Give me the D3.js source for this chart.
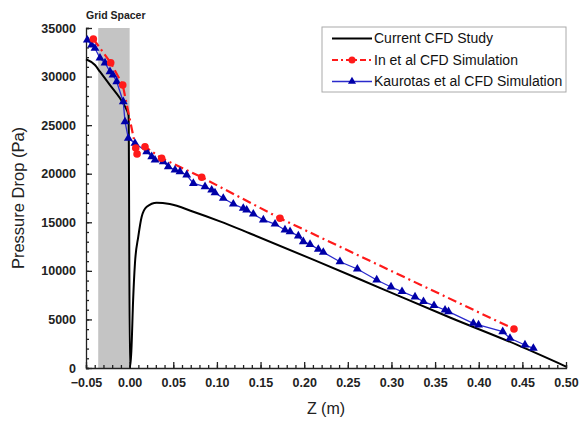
<!DOCTYPE html>
<html>
<head>
<meta charset="utf-8">
<script src="https://cdn.jsdelivr.net/npm/d3@7"></script>
<style>
  body { margin: 0; background: #fff; }
  svg { display: block; font-family: "Liberation Sans", Arial, sans-serif; }
</style>
</head>
<body>
<svg id="chart" width="579" height="421"></svg>
<script>
// current CFD study (black solid line)
var currentZ = [-0.05, -0.0397, -0.034, -0.0225, -0.011, -0.0053, -0.0012, 0.0003, 0.002, 0.004, 0.0061, 0.0099, 0.0138, 0.0196, 0.031, 0.046, 0.073, 0.1035, 0.138, 0.2144, 0.2907, 0.367, 0.4435, 0.5];
var currentP = [31780, 31190, 30500, 29130, 27760, 26900, 26000, 0, 1800, 7000, 10780, 13520, 15570, 16600, 17020, 16880, 16090, 15100, 13850, 11000, 8100, 5200, 2400, 150];

// In et al CFD simulation (red dash-dot, circles)
var inZ = [-0.0416, -0.0217, -0.0079, 0.007, 0.0085, 0.0176, 0.0367, 0.0826, 0.1723, 0.4404];
var inP = [33870, 31430, 29130, 22650, 22030, 22780, 21590, 19630, 15410, 4010];

// Kaurotas et al CFD simulation (blue, triangles)
var kaZ = [-0.0485, -0.0435, -0.0397, -0.034, -0.0282, -0.0225, -0.0191, -0.0148, -0.0073, -0.0053, -0.0015,
  0.0061, 0.0196, 0.0253, 0.0291, 0.0386, 0.0443, 0.052, 0.0577, 0.0654, 0.073, 0.0864, 0.094, 0.0978,
  0.1073, 0.1188, 0.1302, 0.1341, 0.1417, 0.1532, 0.1666, 0.178, 0.1838, 0.1933, 0.199, 0.2067, 0.2162,
  0.2219, 0.241, 0.2609, 0.2831, 0.2995, 0.3121, 0.327, 0.3367, 0.3488, 0.3614, 0.3654, 0.3938, 0.3998,
  0.4275, 0.4358, 0.453, 0.4626];
var kaP = [33760, 33250, 32910, 31910, 31400, 30500, 30160, 29470, 27410, 25350, 23650,
  23130, 22270, 21750, 21410, 21240, 20720, 20380, 20210, 19870, 19010, 18660, 18320, 18040,
  17470, 16880, 16440, 16260, 15850, 15240, 14820, 14210, 14030, 13590, 13000, 12730, 12220,
  11910, 10940, 10190, 9060, 8340, 7870, 7310, 6840, 6430, 5970, 5800, 4600, 4430,
  3740, 3060, 2370, 2030];

var xTicks = [-0.05, 0, 0.05, 0.1, 0.15, 0.2, 0.25, 0.3, 0.35, 0.4, 0.45, 0.5];
var yTicks = [0, 5000, 10000, 15000, 20000, 25000, 30000, 35000];
var spacer = [-0.036, 0];
var legendNames = ["Current CFD Study", "In et al CFD Simulation", "Kaurotas et al CFD Simulation"];

var margin = {top: 28, right: 13, bottom: 53, left: 86},
    width = 579, height = 421;

var svg = d3.select("#chart");

var x = d3.scaleLinear().domain([-0.05, 0.5]).range([margin.left, width - margin.right]);
var y = d3.scaleLinear().domain([0, 35000]).range([height - margin.bottom, margin.top]);

var zip = (zs, ps) => zs.map((z, i) => ({z: z, p: ps[i]}));
var current = zip(currentZ, currentP),
    inEtAl = zip(inZ, inP),
    kaurotas = zip(kaZ, kaP);

// grid spacer band
svg.append("rect")
    .attr("x", x(spacer[0]))
    .attr("y", y(35000))
    .attr("width", x(spacer[1]) - x(spacer[0]))
    .attr("height", y(0) - y(35000))
    .attr("fill", "#c4c4c4");

svg.append("text")
    .attr("x", x(-0.05))
    .attr("y", 19)
    .attr("font-size", 10.5)
    .attr("font-weight", "bold")
    .attr("fill", "#222")
    .text("Grid Spacer");

// axes, ticks inward
var xAxis = g => g
    .attr("transform", `translate(0,${y(0)})`)
    .call(d3.axisBottom(x).tickValues(d3.range(-0.05, 0.5001, 0.01)).tickSize(-3).tickFormat(""))
    .call(g => g.append("g").call(d3.axisBottom(x).tickValues(xTicks).tickSize(-6).tickPadding(10)
        .tickFormat(d3.format(".2f")))
        .call(g => g.select(".domain").remove()));

var yAxis = g => g
    .attr("transform", `translate(${x(-0.05)},0)`)
    .call(d3.axisLeft(y).tickValues(d3.range(0, 35001, 1000)).tickSize(-3).tickFormat(""))
    .call(g => g.append("g").call(d3.axisLeft(y).tickValues(yTicks).tickSize(-6).tickPadding(10)
        .tickFormat(d3.format("d")))
        .call(g => g.select(".domain").remove()));

svg.append("g").call(xAxis);
svg.append("g").call(yAxis);

svg.selectAll(".tick text")
    .attr("font-family", "'Liberation Sans', Arial, sans-serif")
    .attr("font-size", 12.5)
    .attr("font-weight", "bold")
    .attr("fill", "#222");
svg.selectAll(".domain, .tick line").attr("stroke", "#222").attr("stroke-width", 1.3);

svg.append("text")
    .attr("x", (x(-0.05) + x(0.5)) / 2)
    .attr("y", 414)
    .attr("text-anchor", "middle")
    .attr("font-size", 16)
    .attr("fill", "#222")
    .text("Z (m)");

svg.append("text")
    .attr("transform", `translate(24,${(y(0) + y(35000)) / 2}) rotate(-90)`)
    .attr("text-anchor", "middle")
    .attr("font-size", 16.5)
    .attr("fill", "#222")
    .text("Pressure Drop (Pa)");

var line = d3.line().x(d => x(d.z)).y(d => y(d.p));

// current study
svg.append("path")
    .datum(current)
    .attr("fill", "none")
    .attr("stroke", "#000")
    .attr("stroke-width", 2)
    .attr("stroke-linejoin", "round")
    .attr("d", d3.line().x(d => x(d.z)).y(d => y(d.p)).curve(d3.curveMonotoneX));

// In et al
svg.append("path")
    .datum(inEtAl)
    .attr("fill", "none")
    .attr("stroke", "#ff1a1a")
    .attr("stroke-width", 2.2)
    .attr("stroke-dasharray", "9,4,2,4")
    .attr("d", line);

// Kaurotas et al
svg.append("path")
    .datum(kaurotas)
    .attr("fill", "none")
    .attr("stroke", "#2a2acc")
    .attr("stroke-width", 1.3)
    .attr("d", line);

var tri = d3.symbol().type(d3.symbolTriangle).size(34);
svg.append("g")
    .selectAll("path")
    .data(kaurotas)
    .join("path")
    .attr("transform", d => `translate(${x(d.z)},${y(d.p)})`)
    .attr("d", tri)
    .attr("fill", "#0000a8");

svg.append("g")
    .selectAll("circle")
    .data(inEtAl)
    .join("circle")
    .attr("cx", d => x(d.z))
    .attr("cy", d => y(d.p))
    .attr("r", 3.8)
    .attr("fill", "#ff1a1a");

// legend
var lg = svg.append("g").attr("transform", "translate(322,27)");
lg.append("rect")
    .attr("width", 244).attr("height", 65)
    .attr("fill", "#fff")
    .attr("stroke", "#aaa");

var items = lg.selectAll("g.item")
    .data(legendNames)
    .join("g")
    .attr("class", "item")
    .attr("transform", (d, i) => `translate(0,${11.5 + i * 21.5})`);

items.append("line")
    .attr("x1", 10).attr("x2", 50)
    .attr("stroke", (d, i) => ["#000", "#ff1a1a", "#2a2acc"][i])
    .attr("stroke-width", (d, i) => [2, 2.2, 1.5][i])
    .attr("stroke-dasharray", (d, i) => i == 1 ? "6,3,2,3" : null);

items.filter((d, i) => i == 1).append("circle")
    .attr("cx", 30).attr("r", 3.5).attr("fill", "#ff1a1a");
items.filter((d, i) => i == 2).append("path")
    .attr("transform", "translate(30,0)")
    .attr("d", d3.symbol().type(d3.symbolTriangle).size(28))
    .attr("fill", "#0000a8");

items.append("text")
    .attr("x", 52)
    .attr("dy", "0.35em")
    .attr("font-size", 14)
    .attr("fill", "#111")
    .text(d => d);
</script>
</body>
</html>
